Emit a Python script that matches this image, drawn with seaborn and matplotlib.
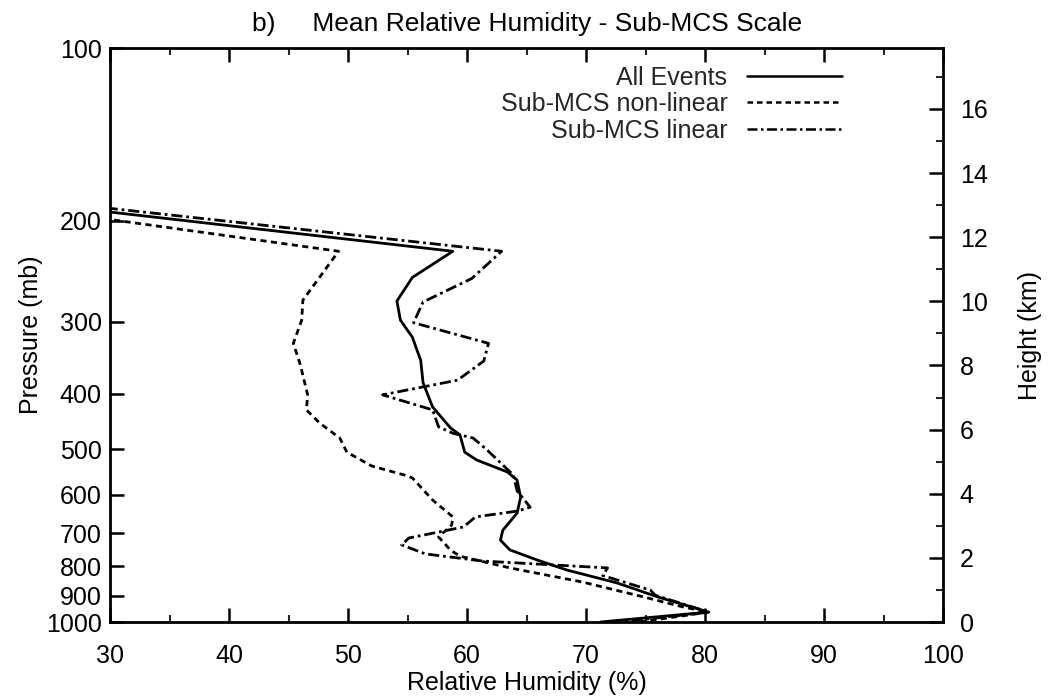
import numpy as np
import pandas as pd
import matplotlib
matplotlib.use("Agg")
import matplotlib.pyplot as plt
from matplotlib.ticker import FixedLocator, NullLocator, MultipleLocator, FixedFormatter
import seaborn as sns

# ---------------- data ----------------
all_p  = [175, 226, 251, 276, 298, 319, 350, 383, 422, 459, 472, 506, 522, 548, 566,
          606, 646, 692, 720, 749, 780, 812, 855, 904, 961, 1000]
all_rh = [12.0, 58.8, 55.4, 54.1, 54.4, 55.4, 56.1, 56.3, 57.1, 58.6, 59.4, 59.8, 60.8,
          63.4, 64.2, 64.5, 64.2, 63.0, 62.8, 63.6, 65.9, 68.4, 72.6, 76.0, 80.3, 71.2]

nl_p  = [175, 200, 226, 275, 298, 327, 357, 402, 427, 450, 478, 506, 535, 555, 561,
         613, 656, 678, 711, 749, 768, 805, 852, 904, 942, 961, 1000]
nl_rh = [10.0, 30.8, 49.2, 46.2, 46.1, 45.4, 46.0, 46.6, 46.5, 47.6, 49.3, 49.9, 52.0,
         54.8, 55.4, 57.1, 58.8, 58.7, 57.6, 58.6, 59.4, 63.6, 69.7, 74.8, 78.2, 80.3, 74.5]

lin_p  = [175, 226, 252, 277, 301, 327, 351, 379, 402, 427, 457, 469, 478, 502, 555,
          591, 631, 641, 656, 683, 714, 734, 761, 783, 805, 830, 880, 898, 961, 1000]
lin_rh = [14.0, 62.9, 60.4, 56.3, 55.5, 61.8, 61.4, 59.2, 52.9, 57.1, 57.6, 58.8, 60.5,
          61.7, 63.9, 64.2, 65.3, 64.2, 60.7, 59.7, 55.1, 54.5, 56.5, 61.3, 71.8, 71.4,
          75.4, 75.8, 80.3, 72.9]

series_names = ["All Events", "Sub-MCS non-linear", "Sub-MCS linear"]

x_ticks = [30, 40, 50, 60, 70, 80, 90, 100]
p_ticks = [100, 200, 300, 400, 500, 600, 700, 800, 900, 1000]
h_ticks = [0, 2, 4, 6, 8, 10, 12, 14, 16]

# ---------------- build long table ----------------
frames = []
for name, p, rh in zip(series_names, [all_p, nl_p, lin_p], [all_rh, nl_rh, lin_rh]):
    frames.append(pd.DataFrame({"rh": rh, "p": p, "series": name, "order": range(len(p))}))
df = pd.concat(frames, ignore_index=True)

# ---------------- plot ----------------
sns.set_theme(style="white")
plt.rcParams["font.family"] = ["Liberation Sans", "DejaVu Sans"]

fig = plt.figure(figsize=(10.48, 6.97), dpi=100)
ax = fig.add_axes([0.105, 0.1076, 0.795, 0.8235])

dashes = {"All Events": "",
          "Sub-MCS non-linear": (2.2, 1.6),
          "Sub-MCS linear": (4.0, 1.4, 1.0, 1.4)}
sns.lineplot(data=df, x="rh", y="p", hue="series", style="series",
             palette={n: "black" for n in series_names}, dashes=dashes,
             sort=False, estimator=None, units="series", linewidth=2.0,
             ax=ax, legend=True)

ax.set_yscale("log")
ax.set_ylim(1000, 100)
ax.set_xlim(30, 100)
ax.yaxis.set_major_locator(FixedLocator(p_ticks))
ax.yaxis.set_major_formatter(FixedFormatter([str(v) for v in p_ticks]))
ax.yaxis.set_minor_locator(NullLocator())
ax.xaxis.set_major_locator(FixedLocator(x_ticks))
ax.xaxis.set_minor_locator(MultipleLocator(5))

for s in ax.spines.values():
    s.set_color("black")
    s.set_linewidth(2.0)

ax.tick_params(axis="x", which="major", direction="in", length=10, width=1.8,
               top=True, bottom=True, labelsize=18, colors="black", pad=16)
ax.tick_params(axis="x", which="minor", direction="in", length=5, width=1.5,
               top=True, bottom=True)
ax.tick_params(axis="y", which="major", direction="in", length=10, width=1.8,
               left=True, right=False, labelsize=18, colors="black", pad=6)

ax.set_xlabel("Relative Humidity (%)", fontsize=18, color="black", labelpad=2)
ax.set_ylabel("Pressure (mb)", fontsize=18, color="black", labelpad=2)
ax.set_title("b)     Mean Relative Humidity - Sub-MCS Scale", fontsize=19,
             color="black", pad=12)

ax2 = ax.twinx()
ax2.set_ylim(0, 17.9)
ax2.yaxis.set_major_locator(FixedLocator(h_ticks))
ax2.yaxis.set_minor_locator(MultipleLocator(1))
ax2.tick_params(axis="y", which="major", direction="in", length=10, width=1.8,
                labelsize=18, colors="black", pad=12)
ax2.tick_params(axis="y", which="minor", direction="in", length=5, width=1.5)
ax2.set_ylabel("Height (km)", fontsize=18, color="black", labelpad=22)
for s in ax2.spines.values():
    s.set_visible(False)

leg = ax.legend(loc="upper right", frameon=False, markerfirst=False, fontsize=18,
                handlelength=3.8, labelspacing=0.1, borderaxespad=0.3,
                bbox_to_anchor=(0.9, 1.0))
for t in leg.get_texts():
    t.set_ha("right")
for h in leg.get_lines():
    h.set_linewidth(1.8)

fig.savefig("out.png", dpi=100, facecolor="white")
